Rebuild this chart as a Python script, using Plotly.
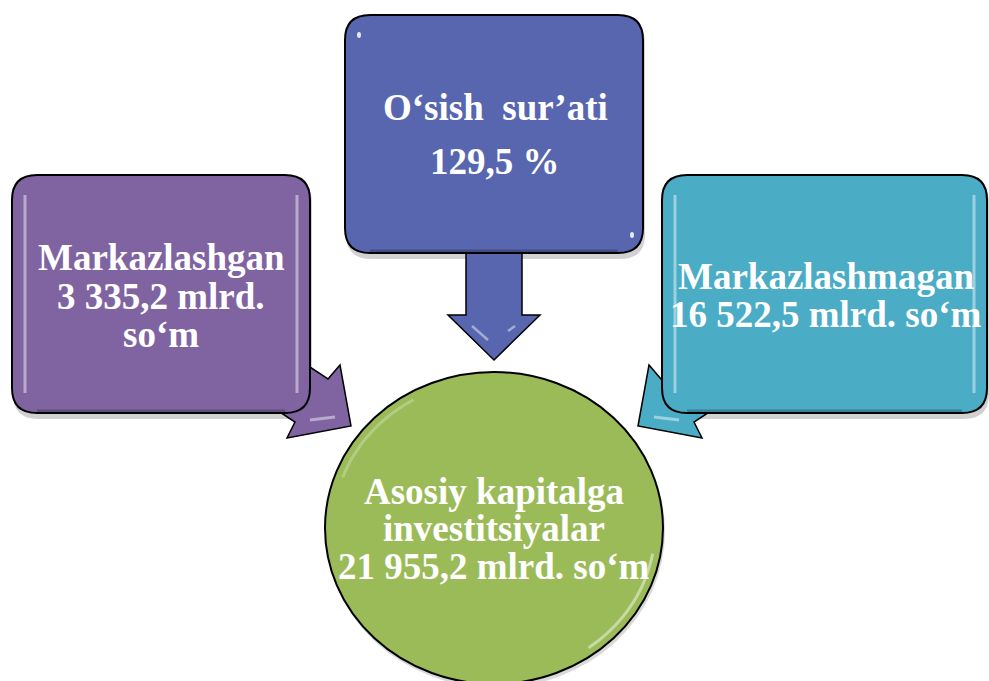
import math
import plotly.graph_objects as go

# ---- content (text data) ----
node_titles = ["Markazlashgan", "O‘sish\u00a0 sur’ati", "Markazlashmagan", "Asosiy kapitalga investitsiyalar"]
node_values = ["3 335,2", "129,5", "16 522,5", "21 955,2"]
node_units = ["mlrd. so‘m", "%", "mlrd. so‘m", "mlrd. so‘m"]

# lines of text per node (built from the data above)
node_lines = [
    [node_titles[0], node_values[0] + " mlrd.", "so‘m"],
    [node_titles[1], node_values[1] + " " + node_units[1]],
    [node_titles[2], node_values[2] + " " + node_units[2]],
    ["Asosiy kapitalga", "investitsiyalar", node_values[3] + " " + node_units[3]],
]

# ---- layout / style ----
W, H = 989, 681
colors = ["#8064A2", "#5866B0", "#4BACC6", "#9BBB59"]
boxes = [(12, 175, 310, 413), (345, 15, 643, 253), (662, 175, 987, 413)]
radius = 25
ellipse = (325, 372, 663, 684)
line_centers = [
    (161, [257, 296, 334]),
    (495, [107, 161]),
    (826, [276, 314]),
    (494, [491, 528, 566]),
]
font_family = "Liberation Serif, Times New Roman, serif"
font_size = 37


def rrect(x0, y0, x1, y1, r):
    return (f"M{x0+r},{y0} L{x1-r},{y0} Q{x1},{y0} {x1},{y0+r} L{x1},{y1-r} "
            f"Q{x1},{y1} {x1-r},{y1} L{x0+r},{y1} Q{x0},{y1} {x0},{y1-r} "
            f"L{x0},{y0+r} Q{x0},{y0} {x0+r},{y0} Z")


def poly(pts):
    return "M" + " L".join(f"{x},{y}" for x, y in pts) + " Z"


shapes = []

# drop shadows
for (x0, y0, x1, y1) in boxes:
    shapes.append(dict(type="path", path=rrect(x0 + 1, y0 + 3, x1 + 2, y1 + 6, radius),
                       fillcolor="rgba(0,0,0,0.18)", line=dict(width=0), layer="above"))
ex0, ey0, ex1, ey1 = ellipse
shapes.append(dict(type="circle", x0=ex0 + 1, y0=ey0 + 3, x1=ex1 + 2, y1=ey1 + 4,
                   fillcolor="rgba(0,0,0,0.15)", line=dict(width=0), layer="above"))

# arrows (diagonal ones are mirror images about the centre line)
cx_mid = W / 2
purple_arrow = [(278, 346), (328, 379), (340, 365), (351, 426), (287, 438), (295, 422), (245, 389)]
teal_arrow = [(2 * cx_mid - x, y) for x, y in purple_arrow]
blue_arrow = [(466, 240), (522, 240), (522, 315), (540, 315), (494, 360), (448, 315), (466, 315)]
for pts, col in [(purple_arrow, colors[0]), (teal_arrow, colors[2]), (blue_arrow, colors[1])]:
    shapes.append(dict(type="path", path=poly(pts), fillcolor=col,
                       line=dict(color="black", width=1.5), layer="above"))
# arrow highlights
shapes.append(dict(type="path", path="M310,420 L335,417", line=dict(color="rgba(255,255,255,0.45)", width=3), layer="above"))
shapes.append(dict(type="path", path=f"M{W-310},420 L{W-335},417", line=dict(color="rgba(255,255,255,0.45)", width=3), layer="above"))
shapes.append(dict(type="path", path="M472,326 L488,340 M515,326 L508,331", line=dict(color="rgba(255,255,255,0.45)", width=2.5), layer="above"))

# boxes
for (x0, y0, x1, y1), col in zip(boxes, [colors[0], colors[1], colors[2]]):
    shapes.append(dict(type="path", path=rrect(x0, y0, x1, y1, radius), fillcolor=col,
                       line=dict(color="black", width=2), layer="above"))
    shapes.append(dict(type="path", path=f"M{x0+radius},{y1-2} L{x1-radius},{y1-2}",
                       line=dict(color="rgba(0,0,0,0.25)", width=3), layer="above"))

# box highlights (vertical glints on purple and teal boxes)
for (x0, y0, x1, y1) in [boxes[0], boxes[2]]:
    for xx in (x0 + 13, x1 - 13):
        shapes.append(dict(type="path", path=f"M{xx},{y0+20} L{xx},{y1-20}",
                           line=dict(color="rgba(255,255,255,0.45)", width=3), layer="above"))
# blue box glints
bx0, by0, bx1, by1 = boxes[1]
for (gx, gy) in [(bx0 + 14, by0 + 20), (bx1 - 11, by1 - 18)]:
    shapes.append(dict(type="circle", x0=gx - 2, y0=gy - 3, x1=gx + 2, y1=gy + 3,
                       fillcolor="rgba(255,255,255,0.85)", line=dict(width=0), layer="above"))

# circle
shapes.append(dict(type="circle", x0=ex0, y0=ey0, x1=ex1, y1=ey1, fillcolor=colors[3],
                   line=dict(color="black", width=2), layer="above"))
cx, cy = (ex0 + ex1) / 2, (ey0 + ey1) / 2
rx, ry = (ex1 - ex0) / 2 - 8, (ey1 - ey0) / 2 - 8
arc = [(cx + rx * math.cos(math.radians(10 + i * 2.2)), cy + ry * math.sin(math.radians(10 + i * 2.2))) for i in range(21)]
shapes.append(dict(type="path", path="M" + " L".join(f"{x:.1f},{y:.1f}" for x, y in arc),
                   line=dict(color="rgba(255,255,255,0.45)", width=3), layer="above"))
arc2 = [(cx + rx * math.cos(math.radians(200 + i * 2.0)), cy + ry * math.sin(math.radians(200 + i * 2.0))) for i in range(21)]
shapes.append(dict(type="path", path="M" + " L".join(f"{x:.1f},{y:.1f}" for x, y in arc2),
                   line=dict(color="rgba(255,255,255,0.25)", width=3), layer="above"))

annotations = []
for lines, (xc, ys) in zip(node_lines, line_centers):
    for txt, yc in zip(lines, ys):
        annotations.append(dict(x=xc, y=yc, xref="x", yref="y", text=f"<b>{txt}</b>",
                                showarrow=False, xanchor="center", yanchor="middle",
                                font=dict(family=font_family, size=font_size, color="white")))

fig = go.Figure()
fig.update_layout(
    width=W, height=H, margin=dict(l=0, r=0, t=0, b=0),
    paper_bgcolor="white", plot_bgcolor="white",
    xaxis=dict(range=[0, W], visible=False, fixedrange=True),
    yaxis=dict(range=[H, 0], visible=False, fixedrange=True),
    shapes=shapes, annotations=annotations, showlegend=False,
)
fig.write_html("out.html", config={"displayModeBar": False},
               post_script="document.body.style.margin='0';document.body.style.overflow='hidden';")
